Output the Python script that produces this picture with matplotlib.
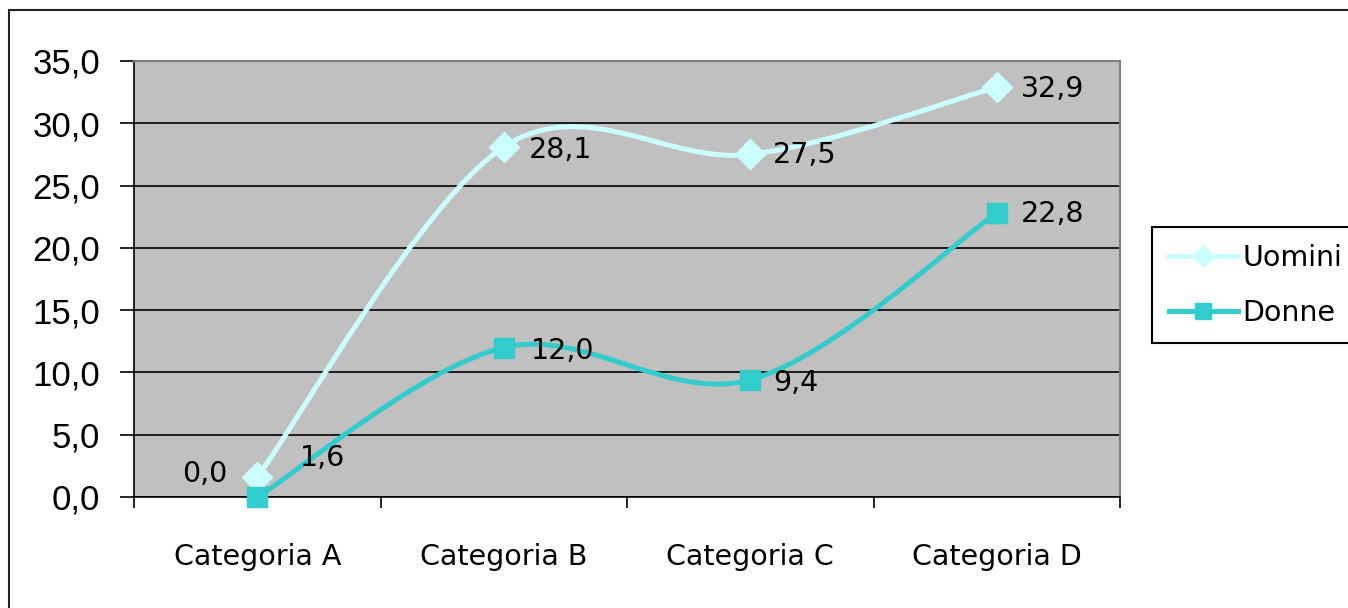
import numpy as np
import matplotlib.pyplot as plt
from matplotlib.path import Path
from matplotlib.patches import PathPatch, Rectangle
from matplotlib.lines import Line2D
from matplotlib.ticker import FixedLocator, FuncFormatter

categorie = ["Categoria A", "Categoria B", "Categoria C", "Categoria D"]
uomini = [1.6, 28.1, 27.5, 32.9]
donne = [0.0, 12.0, 9.4, 22.8]
y_ticks = [0, 5, 10, 15, 20, 25, 30, 35]

COL_UOMINI = "#CCFFFF"
COL_DONNE = "#33CCCC"
PX = 72 / 100  # pixels -> points at 100 dpi

LABEL_FONT = "DejaVu Sans"
TICK_FONT = "Liberation Sans"


def smooth_path(xs, ys):
    # Catmull-Rom style bezier, like the spreadsheet "smoothed line"
    pts = np.column_stack([xs, ys]).astype(float)
    ext = np.vstack([pts[0], pts, pts[-1]])
    verts = [pts[0]]
    codes = [Path.MOVETO]
    for i in range(len(pts) - 1):
        p0, p1, p2, p3 = ext[i], ext[i + 1], ext[i + 2], ext[i + 3]
        c1 = p1 + (p2 - p0) / 6.0
        c2 = p2 - (p3 - p1) / 6.0
        verts += [c1, c2, p2]
        codes += [Path.CURVE4] * 3
    return Path(verts, codes)


def fmt(v):
    return f"{v:.1f}".replace(".", ",")


fig = plt.figure(figsize=(13.48, 6.08), dpi=100)
ax = fig.add_axes([134 / 1348, 1 - 497 / 608, (1120 - 134) / 1348, (497 - 61) / 608])
ax.set_facecolor("#C0C0C0")

x = np.arange(len(categorie))
ax.set_xlim(-0.5, len(categorie) - 0.5)
ax.set_ylim(0, 35)

# grid and axes
ax.yaxis.set_major_locator(FixedLocator(y_ticks))
ax.yaxis.set_major_formatter(FuncFormatter(lambda v, p: fmt(v)))
ax.grid(axis="y", color="black", lw=1.2, zorder=1)
ax.set_axisbelow(True)
for s in ("top", "right"):
    ax.spines[s].set_color("#808080")
    ax.spines[s].set_linewidth(1.5)
for s in ("left", "bottom"):
    ax.spines[s].set_color("black")
    ax.spines[s].set_linewidth(1.2)

ax.tick_params(axis="y", direction="out", length=14 * PX, width=1.2,
               pad=20 * PX, labelsize=25)
for lab in ax.get_yticklabels():
    lab.set_fontfamily(TICK_FONT)

ax.xaxis.set_major_locator(FixedLocator(np.arange(-0.5, len(categorie), 1.0)))
ax.xaxis.set_major_formatter(FuncFormatter(lambda v, p: ""))
ax.xaxis.set_minor_locator(FixedLocator(x))
ax.set_xticklabels(categorie, minor=True, fontfamily=LABEL_FONT, fontsize=20.5)
ax.tick_params(axis="x", which="major", direction="out", length=11 * PX, width=1.2)
ax.tick_params(axis="x", which="minor", length=0, pad=46 * PX)

# series
series = [
    (uomini, COL_UOMINI, "D", 15, "Uomini"),
    (donne, COL_DONNE, "s", 15, "Donne"),
]
handles = []
for vals, col, mk, ms, name in series:
    ax.add_patch(PathPatch(smooth_path(x, vals), fill=False, edgecolor=col,
                           lw=3.6, zorder=3, capstyle="round"))
    ax.plot(x, vals, ls="none", marker=mk, ms=ms, color=col, mec=col, zorder=4,
            clip_on=False)
    handles.append(Line2D([], [], color=col, lw=3.6, marker=mk,
                          ms=ms * 0.75, mec=col))

# value labels (pixel offsets from each point)
offs_uomini = [(43, 19), (25, -3), (23, -1), (24, -2)]
offs_donne = [(-30, 23), (27, -3), (23, -3), (24, -1)]
for vals, offs in ((uomini, offs_uomini), (donne, offs_donne)):
    for xi, v, (dx, dy) in zip(x, vals, offs):
        ha = "right" if dx < 0 else "left"
        ax.annotate(fmt(v), (xi, v), xytext=(dx * PX, dy * PX),
                    textcoords="offset points", ha=ha, va="center",
                    fontsize=20.5, fontfamily=LABEL_FONT, zorder=5,
                    annotation_clip=False)

leg = fig.legend(handles, [s[4] for s in series], loc="upper left",
                 bbox_to_anchor=(1152 / 1348, 1 - 227 / 608),
                 prop={"family": LABEL_FONT, "size": 20.5},
                 frameon=True, fancybox=False, edgecolor="black", framealpha=1,
                 borderpad=0.58, handlelength=2.45, handletextpad=0.15,
                 labelspacing=0.95, borderaxespad=0)
leg.get_frame().set_linewidth(1.5)

# outer chart border
fig.patches.append(Rectangle((9 / 1348, -0.1), 1.2, 1 - 10 / 608 + 0.1,
                             transform=fig.transFigure, fill=False,
                             edgecolor="#222222", lw=1.5))

fig.savefig("out.png", dpi=100)
